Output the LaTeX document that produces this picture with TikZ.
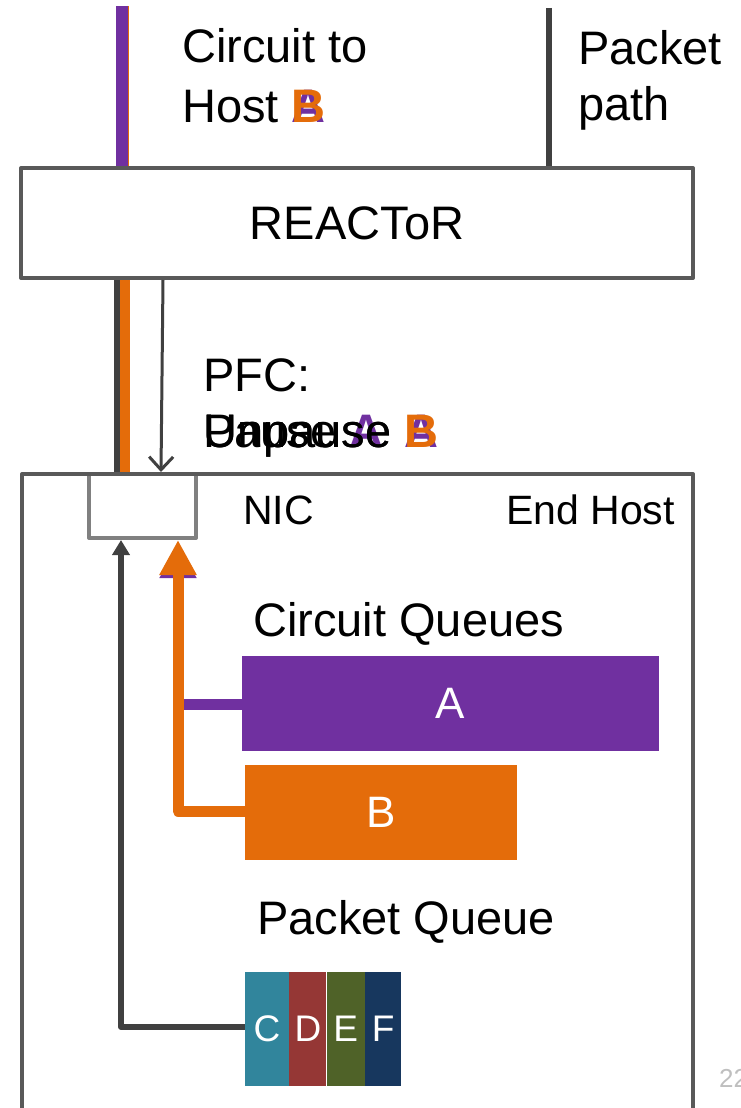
\documentclass[tikz,border=0pt]{standalone}
\usepackage{fontspec}
\setmainfont{Liberation Sans}
\usetikzlibrary{arrows.meta}
\definecolor{cpurple}{HTML}{7030A0}
\definecolor{corange}{HTML}{E46C0A}
\definecolor{cdark}{HTML}{404040}
\definecolor{cframe}{HTML}{595959}
\definecolor{cnic}{HTML}{808080}
\definecolor{qC}{HTML}{31859C}
\definecolor{qD}{HTML}{953735}
\definecolor{qE}{HTML}{4F6228}
\definecolor{qF}{HTML}{17375E}
\definecolor{cpage}{HTML}{BFBFBF}
\begin{document}
\begin{tikzpicture}[x=1pt,y=-1pt,
  lbl/.style={anchor=base west, inner sep=0pt, font=\fontsize{47}{56}\selectfont},
  small/.style={anchor=base west, inner sep=0pt, font=\fontsize{41}{49}\selectfont},
  frame/.style={draw=cframe, line width=4pt, inner sep=0pt},
  queue/.style={inner sep=0pt, text=white, font=\fontsize{44}{52}\selectfont},
  cell/.style={inner sep=0pt, text=white, minimum height=114pt, font=\fontsize{37}{44}\selectfont},
  darkline/.style={draw=cdark, line width=6pt},
  line join=round]
\useasboundingbox (0,0) rectangle (740,1108);

% boxes
\node[frame, minimum width=672pt, minimum height=110pt,
      font=\fontsize{47}{56}\selectfont] (reactor) at (357,223) {REACToR};
\node[draw=cnic, fill=white, line width=4pt, minimum width=107pt,
      minimum height=64pt, inner sep=0pt] (nic) at (142.5,506) {};
\node[frame, minimum width=671pt, minimum height=760pt] (host) at (357.5,854) {};

% circuit queues
\node[queue, fill=cpurple, minimum width=417pt, minimum height=95pt] (qa) at (450.5,703.5) {A};
\node[queue, fill=corange, minimum width=272pt, minimum height=95pt] (qb) at (381,812.5) {B};

% packet queue
\node[cell, fill=qC, minimum width=44pt] (pc) at (267,1029) {C};
\node[cell, fill=qD, minimum width=37pt, anchor=west] (pd) at (pc.east) {D};
\node[cell, fill=qE, minimum width=38pt, anchor=west] (pe) at (pd.east) {E};
\node[cell, fill=qF, minimum width=36pt, anchor=west] (pf) at (pe.east) {F};

% end points of the links
\coordinate (cTop) at (123,6);
\coordinate (pTop) at (548.5,8);
\coordinate (pfcFrom) at (163,280);
\coordinate (pfcTo) at (161,472);
\coordinate (cornerB) at (178,811);
\coordinate (cornerA) at (178,704);
\coordinate (cornerP) at (121,1027);
\coordinate (tipA) at (178,546);

% links above the switch
\draw[corange, line width=11pt] (cTop) -- (cTop |- reactor.north);
\draw[cpurple, line width=12pt] ([xshift=-1.5pt]cTop) -- ([xshift=-1.5pt]cTop |- reactor.north);
\draw[darkline] (pTop) -- (pTop |- reactor.north);

% links between switch and host
\draw[darkline] (117,0 |- reactor.south) -- (117,0 |- host.north);
\draw[corange, line width=10pt] (125,0 |- reactor.south) -- (125,0 |- host.north);
\draw[cdark, line width=3pt, -{Straight Barb[length=13pt,width=24pt]}] (pfcFrom) -- (pfcTo);

% queue paths to the NIC
\draw[cpurple, line width=11pt, -{Triangle[length=32pt,width=35pt]}]
  (qa.west |- cornerA) -- (cornerA) -- (tipA);
\draw[corange, line width=11pt, -{Triangle[length=35pt,width=35pt]}]
  (qb.west |- cornerB) -- (cornerB) -- (cornerB |- nic.south);
\draw[darkline, -{Triangle[length=15pt,width=17pt]}]
  (pc.west |- cornerP) -- (cornerP) -- (cornerP |- nic.south);

% labels
\node[lbl] (t1) at (182,63) {Circuit to};
\node[lbl] (t2) at (182,122) {Host \rlap{\bfseries\textcolor{cpurple}{A}}\textcolor{corange}{\bfseries B}};
\node[lbl] (t3) at (578,65) {Packet};
\node[lbl] (t4) at (578,120) {path};
\node[lbl] (t5) at (203,391) {PFC:};
\node[lbl] (t6) at (203,447) {\rlap{Pause \textcolor{cpurple}{\bfseries A}}\rlap{Unpause \textcolor{cpurple}{\bfseries A}}Unpause \textcolor{corange}{\bfseries B}};
\node[small] (t7) at (243,524) {NIC};
\node[small] (t8) at (506,524) {End Host};
\node[lbl] (t9) at (253,636) {Circuit Queues};
\node[lbl] (t10) at (257,934) {Packet Queue};
\node[anchor=base west, inner sep=0pt, text=cpage, font=\fontsize{26}{31}\selectfont] (pg) at (719,1087) {22};
\end{tikzpicture}
\end{document}
